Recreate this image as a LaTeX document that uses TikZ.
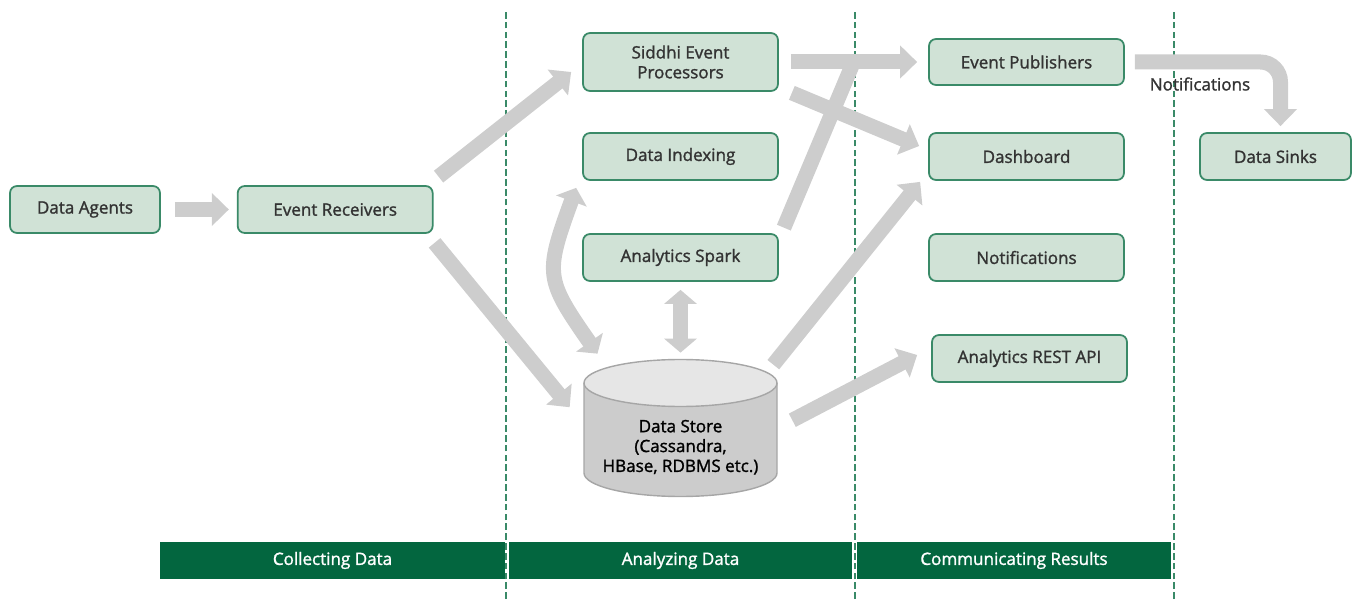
\documentclass[tikz,border=0pt]{standalone}
\usepackage{fontspec}
\setmainfont{Open Sans}
\newfontfamily\semifont{Open Sans}[FakeBold=1.4]
\usetikzlibrary{arrows.meta,positioning,calc}
\definecolor{boxfill}{HTML}{D0E2D6}
\definecolor{boxline}{HTML}{3A8A68}
\definecolor{barfill}{HTML}{03663F}
\definecolor{flowgray}{HTML}{CDCDCD}
\definecolor{txtgray}{HTML}{333333}
\definecolor{storebody}{HTML}{CCCCCC}
\definecolor{storetop}{HTML}{E6E6E6}
\definecolor{storeline}{HTML}{A6A6A6}

\begin{document}
\begin{tikzpicture}[x=0.02cm, y=0.02cm,
    box/.style={draw=boxline, fill=boxfill, line width=1pt, rounded corners=4pt,
      minimum width=3.9cm, minimum height=0.94cm, inner sep=1pt, align=center,
      text=txtgray, font=\semifont\fontsize{9.7}{11.3}\selectfont},
    phase/.style={fill=barfill, text=white, minimum height=0.74cm, inner sep=0pt,
      font=\semifont\fontsize{9.7}{11.3}\selectfont},
    flow/.style={draw=flowgray, line width=0.3cm, -{Triangle[width=0.64cm,length=0.34cm]}},
    flowboth/.style={draw=flowgray, line width=0.3cm,
      {Triangle[width=0.64cm,length=0.28cm]}-{Triangle[width=0.64cm,length=0.28cm]}},
    flowline/.style={draw=flowgray, line width=0.3cm},
    divider/.style={draw=boxline, line width=0.6pt, dash pattern=on 3.8pt off 1.8pt}]
    \useasboundingbox (0,0) rectangle (1353,599);

    \foreach \x in {506,855,1174}
        \draw[divider] (\x,0) -- (\x,589);

    \node[box, minimum width=3cm] (agents) at (85,389.5) {Data Agents};
    \node[box, right=1.52cm of agents] (recv) {Event Receivers};
    \node[box, minimum height=1.16cm] (siddhi) at (680.5,537) {Siddhi Event\\Processors};
    \node[box] (index) at (680.5,442.5) {Data Indexing};
    \node[box] (spark) at (680.5,341.5) {Analytics Spark};
    \node[box, minimum height=0.92cm] (pub) at (1026.5,537) {Event Publishers};
    \node[box] (dash) at (1026.5,442.5) {Dashboard};
    \node[box] (notif) at (1026.5,341.5) {Notifications};
    \node[box] (rest) at (1029.5,240.5) {Analytics REST API};
    \node[box, minimum width=3.02cm] (sinks) at (1275.5,442.5) {Data Sinks};

    \draw[storeline, fill=storebody, line width=0.8pt] (584,216) -- (584,126)
        arc[start angle=180, end angle=360, x radius=96.5, y radius=23.5] -- (777,216);
    \draw[storeline, fill=storetop, line width=0.8pt] (680.5,216) ellipse[x radius=96.5, y radius=23.5];
    \node[minimum width=3.86cm, minimum height=2.73cm, inner sep=0pt] (store) at (680.5,170.75) {};
    \node[align=center, text=black, font=\semifont\fontsize{9.7}{11.3}\selectfont] (storetext)
        at ([shift={(0,-19)}]store.center) {Data Store\\(Cassandra,\\HBase, RDBMS etc.)};

    \node[phase, minimum width=6.9cm] (collect) at (332.5,38.5) {Collecting Data};
    \node[phase, minimum width=6.86cm] (analyze) at (680.5,38.5) {Analyzing Data};
    \node[phase, minimum width=6.28cm] (communicate) at (1014,38.5) {Communicating Results};

    \draw[flow] ([shift={(14,0)}]agents.east) -- ([shift={(-8,0)}]recv.west);
    \draw[flow] ([shift={(5,8.5)}]recv.north east) -- ([shift={(-11,-10)}]siddhi.west);
    \draw[flow] ([shift={(1,-9)}]recv.south east) -- ([shift={(-14,21)}]store.west);
    \draw[flowboth] ([shift={(-83,6)}]store.north) to[out=125, in=-110, looseness=1.4]
        ([shift={(-6,-7)}]index.south west);
    \draw[flowboth] ([shift={(0,7)}]store.north) -- ([shift={(0,-8)}]spark.south);
    \draw[flowline] ([shift={(5,5.5)}]spark.north east) -- ($(siddhi.east)!0.5!(pub.west)$);
    \draw[flow] ([shift={(12,0)}]siddhi.east) -- ([shift={(-11,0)}]pub.west);
    \draw[flow] ([shift={(13,-1)}]siddhi.south east) -- ([shift={(-9,10.5)}]dash.west);
    \draw[flow] ([shift={(-4,-5)}]store.north east) -- ([shift={(-8,-1)}]dash.south west);
    \draw[flow] ([shift={(15,8)}]store.east) -- ([shift={(-14,3.5)}]rest.west);
    \draw[flow, rounded corners=0.4cm] ([shift={(10,0)}]pub.east) -| ([shift={(5,6)}]sinks.north);
    \node[text=txtgray, font=\semifont\fontsize{9.7}{11.3}\selectfont] (notelabel) at (1200,515) {Notifications};
\end{tikzpicture}
\end{document}
